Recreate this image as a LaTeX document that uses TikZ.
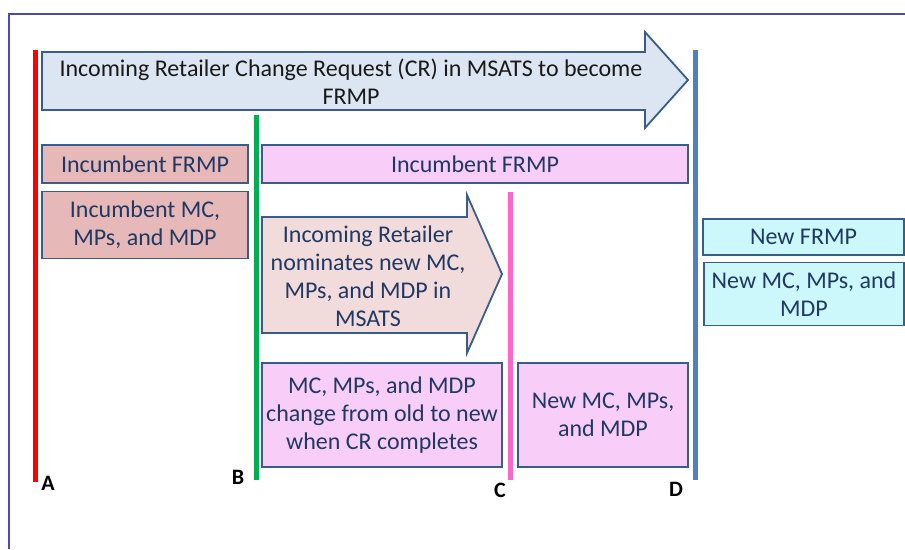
\documentclass[tikz,border=0pt]{standalone}
\usepackage{fontspec}
\setmainfont{Carlito}
\definecolor{framec}{HTML}{4A4AB0}
\definecolor{edgec}{HTML}{385D8A}
\definecolor{textc}{HTML}{1F3864}
\definecolor{arrowa}{HTML}{DCE6F2}
\definecolor{arrowb}{HTML}{F2DCDB}
\definecolor{rosec}{HTML}{E6B9B8}
\definecolor{pinkc}{HTML}{F8CEF8}
\definecolor{cyanc}{HTML}{CCF8FC}
\definecolor{lred}{HTML}{FF0000}
\definecolor{lgreen}{HTML}{00B050}
\definecolor{lmag}{HTML}{FF66CC}
\definecolor{lblue}{HTML}{4F81BD}
\begin{document}
\begin{tikzpicture}[x=1pt,y=-1pt,
  boxst/.style={draw=edgec, line width=1.8pt, rectangle, inner sep=0pt, align=center,
    text=textc, font=\fontsize{24}{28}\selectfont},
  shapest/.style={draw=edgec, line width=1.8pt, line join=miter},
  txt/.style={inner sep=0pt, align=center, font=\fontsize{24}{28}\selectfont},
  vline/.style={line width=5pt},
  lab/.style={inner sep=0pt, font=\fontsize{22}{26}\selectfont\bfseries, text=black}
]
\useasboundingbox (0,0) rectangle (905,549);
% frame
\draw[framec, line width=1.5pt] (9,549) -- (9,14) -- (905,14);

% time markers
\coordinate (At) at (35,50);  \coordinate (Ab) at (35,482);
\coordinate (Bt) at (256,115); \coordinate (Bb) at (256,480);
\coordinate (Ct) at (510,192); \coordinate (Cb) at (510,480);
\coordinate (Dt) at (695,50);  \coordinate (Db) at (695,480);
\draw[vline, lred] (At) -- (Ab);
\draw[vline, lgreen] (Bt) -- (Bb);
\draw[vline, lmag] (Ct) -- (Cb);
\draw[vline, lblue] (Dt) -- (Db);

% big arrow
\draw[shapest, fill=arrowa] (42,52) -- (645,52) -- (645,32) -- (688,80) -- (645,128) -- (645,110) -- (42,110) -- cycle;
\node[txt, text=black!90] (cr) at (351,82) {Incoming Retailer Change Request (CR) in MSATS to become\\FRMP};

% left boxes
\node[boxst, fill=rosec, minimum width=206, minimum height=38] (incf) at (145,164) {Incumbent FRMP};
\node[boxst, fill=rosec, minimum width=206, minimum height=67] (incm) at (145,225) {Incumbent MC,\\MPs, and MDP};

% right incumbent FRMP
\node[boxst, fill=pinkc, minimum width=426, minimum height=38] (incf2) at (475,164) {Incumbent FRMP};

% nomination arrow
\draw[shapest, fill=arrowb] (262,217) -- (467,217) -- (467,195) -- (502,274) -- (467,353) -- (467,333) -- (262,333) -- cycle;
\node[txt, text=textc] (nom) at (368,276) {Incoming Retailer\\nominates new MC,\\MPs, and MDP in\\MSATS};

% bottom boxes
\node[boxst, fill=pinkc, minimum width=240, minimum height=104] (chg) at (382,415) {MC, MPs, and MDP\\change from old to new\\when CR completes};
\node[boxst, fill=pinkc, minimum width=170, minimum height=104] (newp) at (603,415) {New MC, MPs,\\and MDP};

% new boxes
\node[boxst, fill=cyanc, minimum width=201, minimum height=36] (newf) at (803.5,237) {New FRMP};
\node[boxst, fill=cyanc, minimum width=200, minimum height=63] (newm) at (804,294) {New MC, MPs, and\\MDP};

% labels
\node[lab] (la) at (48,483) {A};
\node[lab] (lb) at (238,477) {B};
\node[lab] (lc) at (500,490) {C};
\node[lab] (ld) at (676,489) {D};
\end{tikzpicture}
\end{document}
